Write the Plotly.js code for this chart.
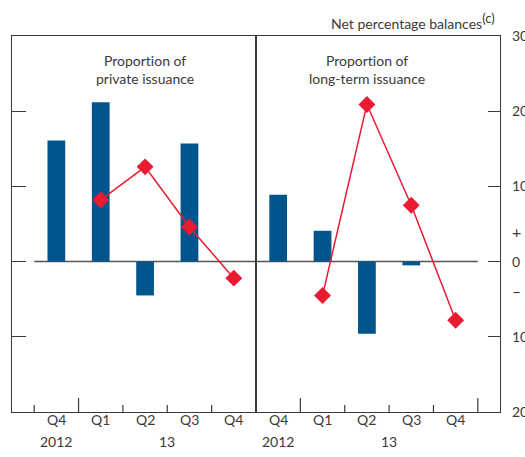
<!DOCTYPE html>
<html>
<head>
<meta charset="utf-8">
<script src="https://cdn.plot.ly/plotly-3.0.1.min.js"></script>
<style>html,body{margin:0;padding:0;background:#fff;}#chart{width:525px;height:457px;}
#chart text{font-variant-ligatures:none;font-feature-settings:"liga" 0;}</style>
</head>
<body>
<div id="chart"></div>
<script>
var quarters = ['Q4', 'Q1', 'Q2', 'Q3', 'Q4'];
var yearLabels = ['2012', '13'];
var yearPositions = [0, 2.5];
var panelTitles = ['Proportion of<br>private issuance', 'Proportion of<br>long-term issuance'];
var privateBars = [16.1, 21.2, -4.5, 15.7, null];
var privateLine = [null, 8.2, 12.6, 4.6, -2.2];
var longTermBars = [8.9, 4.1, -9.6, -0.5, null];
var longTermLine = [null, -4.5, 20.9, 7.5, -7.8];
var yTickVals = [30, 20, 10, 0, -10, -20];
var yTickText = ['30', '20', '10', '0', '10', '20'];

var idx = quarters.map(function (q, i) { return i; });
var BLUE = '#00558C', RED = '#EA1A32', INK = '#3a3a3a', FONT = 'Lato, "Open Sans", sans-serif';

var traces = [
  {type: 'bar', x: idx, y: privateBars, xaxis: 'x', yaxis: 'y', marker: {color: BLUE}, width: 0.4, hoverinfo: 'skip'},
  {type: 'bar', x: idx, y: longTermBars, xaxis: 'x2', yaxis: 'y2', marker: {color: BLUE}, width: 0.4, hoverinfo: 'skip'},
  {type: 'scatter', mode: 'lines+markers', x: idx, y: privateLine, xaxis: 'x', yaxis: 'y',
   line: {color: RED, width: 1.5}, marker: {symbol: 'diamond', size: 13, color: RED}, connectgaps: false},
  {type: 'scatter', mode: 'lines+markers', x: idx, y: longTermLine, xaxis: 'x2', yaxis: 'y2',
   line: {color: RED, width: 1.5}, marker: {symbol: 'diamond', size: 13, color: RED}, connectgaps: false}
];

var shapes = [];
var annotations = [];
['x', 'x2'].forEach(function (xr, p) {
  shapes.push({type: 'line', xref: xr, yref: p ? 'y2' : 'y', x0: -0.5, x1: 4.5, y0: 0, y1: 0,
    line: {color: '#555555', width: 1.5}, layer: 'below'});
  for (var b = -0.5; b <= 4.5; b += 1) {
    if (p === 0 && b === 4.5) continue;
    if (p === 1 && b === -0.5) continue;
    var major = (b === 0.5) || (p === 1 && b === 4.5);
    shapes.push({type: 'line', xref: xr, yref: 'paper', ysizemode: 'pixel', yanchor: 0,
      x0: b, x1: b, y0: 0, y1: major ? 14 : 7, line: {color: INK, width: 1.2}});
  }
  quarters.forEach(function (q, i) {
    annotations.push({xref: xr, yref: 'paper', x: i, y: 0, yanchor: 'middle', yshift: -7,
      text: q, showarrow: false, font: {family: FONT, size: 14, color: INK}});
  });
  yearLabels.forEach(function (yl, i) {
    annotations.push({xref: xr, yref: 'paper', x: yearPositions[i], y: 0, yanchor: 'middle', yshift: -29,
      text: yl, showarrow: false, font: {family: FONT, size: 14, color: INK}});
  });
  annotations.push({xref: xr, yref: p ? 'y2' : 'y', x: 2, y: 25.6, yanchor: 'middle',
    text: panelTitles[p], showarrow: false, font: {family: FONT, size: 14, color: INK}});
});
annotations.push({xref: 'paper', yref: 'paper', x: 0.994, y: 1, xanchor: 'right', yanchor: 'bottom', yshift: 2,
  text: 'Net percentage balances<sup><span style="font-size:13px">(c)</span></sup>', showarrow: false,
  font: {family: FONT, size: 14, color: INK}});
annotations.push({xref: 'paper', yref: 'y2', x: 1, y: 4, xanchor: 'left', xshift: 10,
  text: '+', showarrow: false, font: {family: FONT, size: 16, color: INK}});
annotations.push({xref: 'paper', yref: 'y2', x: 1, y: -3.8, xanchor: 'left', xshift: 10,
  text: '–', showarrow: false, font: {family: FONT, size: 16, color: INK}});

var xbase = {showgrid: false, zeroline: false, showticklabels: false, ticks: '',
  showline: true, mirror: true, linecolor: INK, linewidth: 1.2, fixedrange: true};
var layout = {
  width: 525, height: 457,
  margin: {l: 12, r: 25, t: 36, b: 44.5},
  paper_bgcolor: '#fff', plot_bgcolor: '#fff',
  showlegend: false, barmode: 'overlay',
  font: {family: FONT, size: 14, color: INK},
  xaxis: Object.assign({}, xbase, {domain: [0, 0.5], range: [-1, 4.5], anchor: 'y'}),
  xaxis2: Object.assign({}, xbase, {domain: [0.5, 1], range: [-0.5, 5], anchor: 'y2'}),
  yaxis: {domain: [0, 1], range: [-20, 30], anchor: 'x', showgrid: false, zeroline: false,
    showline: true, mirror: true, linecolor: INK, linewidth: 1.2,
    tickvals: [20, 10, 0, -10], ticks: 'inside', ticklen: 14, tickcolor: INK, tickwidth: 1.2,
    showticklabels: false, fixedrange: true},
  yaxis2: {domain: [0, 1], range: [-20, 30], anchor: 'x2', side: 'right', showgrid: false, zeroline: false,
    showline: true, mirror: true, linecolor: INK, linewidth: 1.2,
    tickvals: yTickVals, ticktext: yTickText, ticks: 'inside', ticklen: 12, tickcolor: INK, tickwidth: 1.2,
    ticklabelstandoff: 8, tickfont: {family: FONT, size: 14, color: INK}, fixedrange: true},
  shapes: shapes,
  annotations: annotations
};
Plotly.newPlot('chart', traces, layout, {displayModeBar: false, staticPlot: true});
</script>
</body>
</html>
